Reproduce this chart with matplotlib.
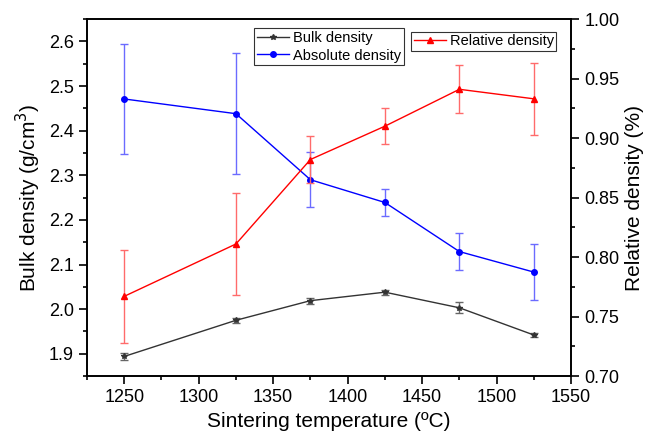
import numpy as np
import matplotlib
matplotlib.use("Agg")
from matplotlib import pyplot as plt
from matplotlib.lines import Line2D
from matplotlib.ticker import MultipleLocator, FormatStrFormatter

plt.rcParams["font.family"] = ["Liberation Sans", "DejaVu Sans"]

# 烧结温度
temps = [1250, 1325, 1375, 1425, 1475, 1525]

# 体积密度 / 绝对密度 (g/cm3)
bulk = [1.894, 1.975, 2.019, 2.038, 2.003, 1.942]
bulk_err = [0.007, 0.006, 0.007, 0.006, 0.012, 0.004]
absolute = [2.471, 2.438, 2.290, 2.239, 2.129, 2.083]
absolute_err = [0.123, 0.135, 0.062, 0.031, 0.041, 0.063]

# 相对密度
relative = [0.767, 0.811, 0.882, 0.910, 0.941, 0.933]
relative_err = [0.039, 0.043, 0.020, 0.015, 0.020, 0.030]

fig = plt.figure(figsize=(6.61, 4.44), dpi=100)
ax = fig.add_axes([0.1316, 0.153, 0.7324, 0.804])
ax2 = ax.twinx()

ax.errorbar(temps, bulk, yerr=bulk_err, color="#333333", ecolor="#666666",
            marker="*", markersize=4, lw=1, elinewidth=1, capsize=3)
ax.errorbar(temps, absolute, yerr=absolute_err, color="#0000ff", ecolor="#6b6bff",
            marker="o", markersize=4, lw=1, elinewidth=1, capsize=3)
ax2.errorbar(temps, relative, yerr=relative_err, color="#ff0000", ecolor="#ff6b6b",
             marker="^", markersize=4, lw=1, elinewidth=1, capsize=3)

ax.set_xlim(1225, 1550)
ax.set_ylim(1.85, 2.65)
ax2.set_ylim(0.70, 1.00)

ax.xaxis.set_major_locator(MultipleLocator(50))
ax.xaxis.set_minor_locator(MultipleLocator(25))
ax.yaxis.set_major_locator(MultipleLocator(0.1))
ax.yaxis.set_minor_locator(MultipleLocator(0.05))
ax2.yaxis.set_major_locator(MultipleLocator(0.05))
ax2.yaxis.set_minor_locator(MultipleLocator(0.025))
ax.yaxis.set_major_formatter(FormatStrFormatter("%.1f"))
ax2.yaxis.set_major_formatter(FormatStrFormatter("%.2f"))

for a in (ax, ax2):
    a.tick_params(which="major", direction="out", length=6, width=1.2, labelsize=13)
    a.tick_params(which="minor", direction="out", length=3, width=1.2)
    for s in a.spines.values():
        s.set_linewidth(1.2)

ax.set_xlabel("Sintering temperature (ºC)", fontsize=15)
ax.set_ylabel("Bulk density (g/cm$^3$)", fontsize=15)
ax2.set_ylabel("Relative density (%)", fontsize=15)

# 图例只显示线和标记
h_bulk = Line2D([], [], color="#333333", marker="*", markersize=4, lw=1)
h_abs = Line2D([], [], color="#0000ff", marker="o", markersize=4, lw=1)
h_rel = Line2D([], [], color="#ff0000", marker="^", markersize=4, lw=1)

leg1 = ax.legend([h_bulk, h_abs], ["Bulk density", "Absolute density"],
                 loc="upper left", bbox_to_anchor=(0.345, 0.975), fontsize=10.5,
                 frameon=True, fancybox=False, edgecolor="black",
                 handlelength=2.2, borderpad=0.2, labelspacing=0.25,
                 handletextpad=0.3, borderaxespad=0)
leg2 = ax2.legend([h_rel], ["Relative density"],
                  loc="upper left", bbox_to_anchor=(0.67, 0.963), fontsize=10.5,
                  frameon=True, fancybox=False, edgecolor="black",
                  handlelength=2.2, borderpad=0.15, handletextpad=0.3,
                  borderaxespad=0)
for leg in (leg1, leg2):
    leg.get_frame().set_linewidth(0.8)

plt.savefig("out.png", dpi=100)
